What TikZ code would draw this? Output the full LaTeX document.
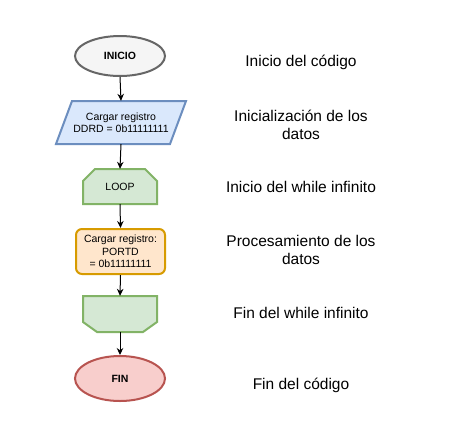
\documentclass[tikz,border=0pt]{standalone}
\usepackage{fontspec}
\setmainfont{Liberation Sans}
\usetikzlibrary{shapes.geometric,arrows.meta}
\definecolor{grayfill}{HTML}{F5F5F5}
\definecolor{graydraw}{HTML}{666666}
\definecolor{bluefill}{HTML}{DAE8FC}
\definecolor{bluedraw}{HTML}{6C8EBF}
\definecolor{greenfill}{HTML}{D5E8D4}
\definecolor{greendraw}{HTML}{82B366}
\definecolor{orangefill}{HTML}{FFE6CC}
\definecolor{orangedraw}{HTML}{D79B00}
\definecolor{redfill}{HTML}{F8CECC}
\definecolor{reddraw}{HTML}{B85450}
\tikzset{
  small/.style={font=\fontsize{10.5}{12.5}\selectfont, align=center},
  label/.style={font=\fontsize{15.5}{18}\selectfont, align=center},
  shapeline/.style={line width=2pt},
  arr/.style={-{Stealth[length=7pt,width=6.5pt]}, line width=1pt, black},
}
\begin{document}
\begin{tikzpicture}[x=1pt,y=-1pt]
\useasboundingbox (0,0) rectangle (460,424);
\fill[white] (0,0) rectangle (460,424);
% INICIO
\node[ellipse, shapeline, draw=graydraw, fill=grayfill, minimum width=90pt, minimum height=40pt, small, font=\fontsize{10.5}{12.5}\selectfont\bfseries] (inicio) at (120,56) {INICIO};
% parallelogram
\filldraw[shapeline, draw=bluedraw, fill=bluefill] (72,101) -- (186,101) -- (170,144) -- (56,144) -- cycle;
\node[small, minimum width=114pt, minimum height=43pt, inner sep=0pt] (datos) at (121,122.5) {Cargar registro\\DDRD = 0b11111111};
% LOOP
\filldraw[shapeline, draw=greendraw, fill=greenfill] (83,181) -- (95,169) -- (145,169) -- (157,181) -- (157,204) -- (83,204) -- cycle;
\node[small, minimum width=74pt, minimum height=35pt, inner sep=0pt] (loop) at (120,186.5) {LOOP};
% processing
\node[shapeline, draw=orangedraw, fill=orangefill, rounded corners=6pt, minimum width=89pt, minimum height=45pt, small, inner sep=0pt] (proc) at (120.5,251.5) {Cargar registro:\\PORTD\\= 0b11111111};
% end loop
\filldraw[shapeline, draw=greendraw, fill=greenfill] (83,296) -- (157,296) -- (157,322) -- (143,332) -- (97,332) -- (83,322) -- cycle;
\node[minimum width=74pt, minimum height=36pt, inner sep=0pt] (endloop) at (120,314) {};
% FIN
\node[ellipse, shapeline, draw=reddraw, fill=redfill, minimum width=90pt, minimum height=45pt, font=\fontsize{10.5}{12.5}\selectfont\bfseries] (fin) at (120,378.5) {FIN};
% connectors
\draw[arr] (inicio.south) -- (datos.north);
\draw[arr] (datos.south) -- (loop.north);
\draw[arr] (loop.south) -- (proc.north);
\draw[arr] (proc.south) -- (endloop.north);
\draw[arr] (endloop.south) -- (fin.north);
% labels
\node[label] (l1) at (301,62) {Inicio del código};
\node[label] (l2) at (301,125) {Inicialización de los\\datos};
\node[label] (l3) at (301,187) {Inicio del while infinito};
\node[label] (l4) at (301,250) {Procesamiento de los\\datos};
\node[label] (l5) at (301,313) {Fin del while infinito};
\node[label] (l6) at (301,385) {Fin del código};
\end{tikzpicture}
\end{document}
